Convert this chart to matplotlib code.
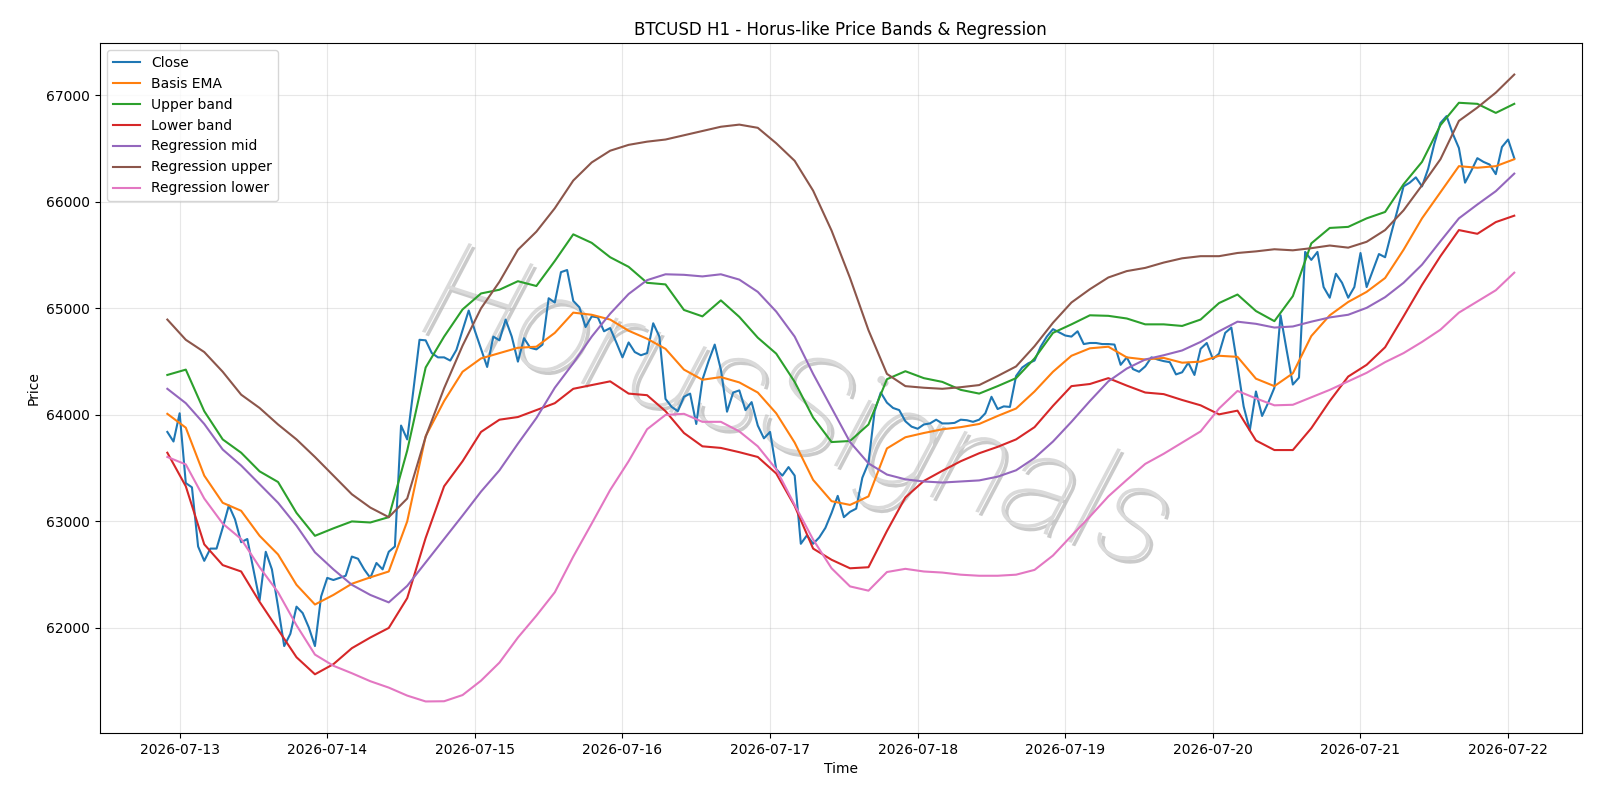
import matplotlib
matplotlib.use('Agg')
import matplotlib.pyplot as plt
import matplotlib.dates as mdates
import matplotlib.patheffects as pe
import pandas as pd


#. data
# hourly close, first bar 2026-07-12 22:00
close = [63840, 63750, 64015, 63360, 63320, 62765, 62630, 62745, 62745, 62940,
         63150, 63020, 62805, 62835, 62550, 62260, 62715, 62550, 62200, 61830,
         61945, 62200, 62140, 62005, 61830, 62295, 62470, 62450, 62470, 62490,
         62670, 62650, 62550, 62470, 62610, 62550, 62715, 62765, 63900, 63770,
         64230, 64705, 64700, 64580, 64540, 64540, 64510, 64610, 64795, 64980,
         64790, 64620, 64450, 64735, 64700, 64895, 64735, 64500, 64720, 64630,
         64615, 64660, 65095, 65055, 65340, 65360, 65070, 65010, 64825, 64925,
         64915, 64785, 64815, 64680, 64540, 64680, 64590, 64560, 64580, 64860,
         64735, 64150, 64075, 64035, 64170, 64200, 63915, 64330, 64505, 64660,
         64425, 64030, 64210, 64230, 64045, 64120, 63900, 63780, 63840, 63490,
         63430, 63510, 63430, 62790, 62870, 62790, 62850, 62940, 63080, 63240,
         63040, 63090, 63120, 63410, 63550, 64035, 64210, 64115, 64065, 64045,
         63940, 63890, 63870, 63910, 63920, 63955, 63920, 63920, 63925, 63955,
         63950, 63935, 63955, 64015, 64170, 64055, 64080, 64075, 64365, 64445,
         64485, 64510, 64640, 64735, 64805, 64775, 64745, 64735, 64785, 64665,
         64675, 64675, 64665, 64665, 64660, 64470, 64540, 64430, 64405, 64455,
         64540, 64520, 64505, 64495, 64380, 64400, 64490, 64375, 64620, 64675,
         64525, 64575, 64770, 64820, 64460, 64080, 63855, 64220, 63990, 64115,
         64255, 64935, 64605, 64285, 64350, 65530, 65455, 65530, 65200, 65100,
         65325, 65240, 65100, 65200, 65520, 65200, 65355, 65510, 65480, 65705,
         65920, 66145, 66180, 66230, 66145, 66310, 66545, 66740, 66805, 66640,
         66505, 66180, 66290, 66410, 66375, 66350, 66260, 66515, 66585, 66410]

# smoother series, read every 3 hours from the same start
basis_ema = [64010, 63880, 63430, 63175, 63100, 62865, 62690, 62405, 62220, 62310,
             62415, 62475, 62530, 63000, 63800, 64130, 64405, 64530, 64580, 64630,
             64640, 64770, 64960, 64940, 64895, 64790, 64715, 64620, 64425, 64330,
             64355, 64305, 64210, 64015, 63740, 63390, 63190, 63155, 63235, 63685,
             63790, 63830, 63865, 63885, 63915, 63990, 64060, 64220, 64405, 64555,
             64625, 64640, 64540, 64520, 64535, 64490, 64500, 64555, 64545, 64340,
             64270, 64390, 64740, 64935, 65060, 65155, 65285, 65550, 65845, 66090,
             66335, 66320, 66335, 66400]

upper_band = [64375, 64425, 64035, 63770, 63645, 63470, 63370, 63080, 62865, 62935,
              63000, 62990, 63040, 63665, 64445, 64735, 64990, 65140, 65175, 65255,
              65210, 65445, 65695, 65615, 65480, 65390, 65240, 65225, 64985, 64925,
              65075, 64920, 64725, 64575, 64310, 63975, 63745, 63755, 63910, 64335,
              64410, 64345, 64310, 64235, 64200, 64270, 64345, 64530, 64770, 64850,
              64935, 64930, 64905, 64850, 64850, 64835, 64895, 65050, 65130, 64975,
              64880, 65115, 65610, 65755, 65765, 65845, 65905, 66165, 66375, 66720,
              66930, 66920, 66835, 66920]

lower_band = [63645, 63330, 62785, 62590, 62530, 62245, 61985, 61725, 61565, 61660,
              61810, 61910, 62000, 62280, 62845, 63330, 63565, 63840, 63955, 63980,
              64045, 64110, 64245, 64280, 64315, 64200, 64185, 64035, 63830, 63705,
              63690, 63650, 63605, 63450, 63145, 62745, 62640, 62560, 62570, 62910,
              63225, 63380, 63475, 63565, 63640, 63700, 63770, 63885, 64085, 64270,
              64290, 64345, 64275, 64210, 64195, 64140, 64090, 64005, 64040, 63760,
              63670, 63670, 63875, 64130, 64360, 64470, 64635, 64925, 65220, 65490,
              65735, 65700, 65810, 65870]

reg_mid = [64245, 64110, 63915, 63675, 63525, 63350, 63175, 62960, 62710, 62550,
           62405, 62310, 62240, 62395, 62615, 62835, 63055, 63280, 63480, 63730,
           63970, 64255, 64485, 64735, 64950, 65135, 65265, 65320, 65315, 65300,
           65320, 65270, 65155, 64970, 64735, 64385, 64065, 63745, 63545, 63440,
           63395, 63375, 63365, 63375, 63385, 63420, 63480, 63595, 63750, 63935,
           64130, 64315, 64435, 64520, 64560, 64605, 64685, 64785, 64875, 64855,
           64820, 64830, 64875, 64915, 64940, 65005, 65105, 65240, 65410, 65630,
           65845, 65975, 66100, 66265]

reg_upper = [64895, 64705, 64590, 64405, 64190, 64065, 63910, 63770, 63605, 63430,
             63255, 63130, 63040, 63215, 63795, 64250, 64650, 65000, 65250, 65550,
             65720, 65940, 66200, 66370, 66480, 66535, 66565, 66585, 66625, 66665,
             66705, 66725, 66695, 66550, 66385, 66105, 65730, 65285, 64795, 64385,
             64270, 64255, 64245, 64260, 64280, 64365, 64455, 64645, 64865, 65055,
             65180, 65290, 65350, 65380, 65430, 65470, 65490, 65490, 65520, 65535,
             65555, 65545, 65565, 65590, 65570, 65625, 65735, 65920, 66155, 66400,
             66760, 66885, 67025, 67195]

reg_lower = [63605, 63535, 63215, 62980, 62835, 62570, 62335, 62025, 61750, 61645,
             61575, 61500, 61440, 61365, 61310, 61312, 61370, 61505, 61675, 61910,
             62115, 62335, 62670, 62980, 63295, 63565, 63865, 64000, 64010, 63935,
             63935, 63845, 63705, 63490, 63155, 62830, 62560, 62390, 62350, 62525,
             62555, 62530, 62520, 62500, 62490, 62490, 62500, 62545, 62680, 62865,
             63045, 63235, 63390, 63540, 63635, 63740, 63845, 64060, 64225, 64155,
             64090, 64095, 64165, 64235, 64315, 64395, 64495, 64580, 64685, 64800,
             64960, 65065, 65170, 65335]

t_close = pd.date_range('2026-07-12 22:00', periods=len(close), freq='h')
t_3h = pd.date_range('2026-07-12 22:00', periods=len(basis_ema), freq='3h')


#. plotting
fig, ax = plt.subplots(figsize=(16, 8), dpi=100)
fig.subplots_adjust(left=0.0625, right=0.9885, top=0.946, bottom=0.084)

ax.plot(t_close, close, label='Close')
ax.plot(t_3h, basis_ema, label='Basis EMA')
ax.plot(t_3h, upper_band, label='Upper band')
ax.plot(t_3h, lower_band, label='Lower band')
ax.plot(t_3h, reg_mid, label='Regression mid')
ax.plot(t_3h, reg_upper, label='Regression upper')
ax.plot(t_3h, reg_lower, label='Regression lower')

# watermark
ax.text(0.47, 0.462, 'HorusSignals', transform=ax.transAxes, fontsize=100,
        family='Roboto', weight='light', style='italic',
        color='#dadada', rotation=-18, ha='center', va='center', zorder=1,
        path_effects=[pe.SimplePatchShadow(offset=(2.5, -2.5), shadow_rgbFace='#a0a0a0', alpha=0.55),
                      pe.Normal()])

ax.set_title('BTCUSD H1 - Horus-like Price Bands & Regression')
ax.set_xlabel('Time')
ax.set_ylabel('Price')
ax.xaxis.set_major_locator(mdates.DayLocator())
ax.xaxis.set_major_formatter(mdates.DateFormatter('%Y-%m-%d'))
ax.grid(True, alpha=0.3)
ax.legend(loc='upper left')

plt.savefig('out.png', dpi=100)
